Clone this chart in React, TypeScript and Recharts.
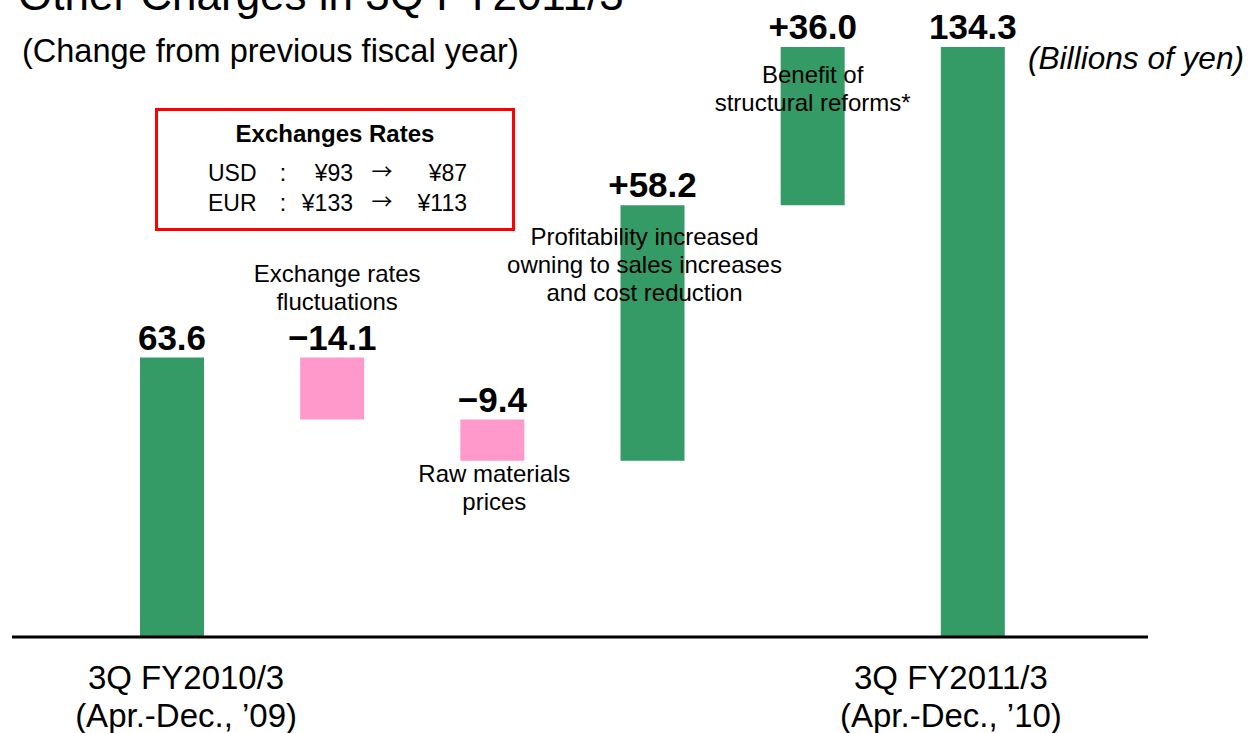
import React from "react";
import { Bar, BarChart, Cell, LabelList, XAxis, YAxis } from "recharts";

const categories = ["3Q FY2010/3", "Exchange rates", "Raw materials", "Profitability", "Structural reforms", "3Q FY2011/3"];
const kinds = ["total", "delta", "delta", "delta", "delta", "total"];
const values = [63.6, -14.1, -9.4, 58.2, 36.0, 134.3];
const valueLabels = ["63.6", "\u221214.1", "\u22129.4", "+58.2", "+36.0", "134.3"];
const notes = [
  [],
  ["Exchange rates", "fluctuations"],
  ["Raw materials", "prices"],
  ["Profitability increased", "owning to sales increases", "and cost reduction"],
  ["Benefit of", "structural reforms*"],
  [],
];
const tickTop = ["3Q FY2010/3", "", "", "", "", "3Q FY2011/3"];
const tickBottom = ["(Apr.-Dec., \u201909)", "", "", "", "", "(Apr.-Dec., \u201910)"];

const GREEN = "#349a66";
const PINK = "#ff99cc";
const FONT = '"Liberation Sans", Arial, sans-serif';

// waterfall: invisible base + visible step
let running = 0;
const data = categories.map((name, i) => {
  const v = values[i];
  let base = 0;
  let size = v;
  if (kinds[i] === "total") {
    running = v;
  } else if (v >= 0) {
    base = running;
    running += v;
  } else {
    base = running + v;
    size = -v;
    running += v;
  }
  return { name, base: Math.round(base * 10) / 10, size: Math.round(size * 10) / 10 };
});

// where the first note line sits, relative to the top of the bar
const noteDy = [0, -76, 62, 40, 36, 0];
const noteDx = [0, 5, 2, -8, 0, 0];
const tickDx = [14, 0, 0, 0, 0, -22];

function StepLabel(props: any) {
  const { x, y, width, index } = props;
  const cx = x + width / 2;
  const lines = notes[index] || [];
  return (
    <g>
      <text x={cx} y={y - 8} textAnchor="middle" fontFamily={FONT} fontWeight="bold" fontSize={35} fill="#000">
        {valueLabels[index]}
      </text>
      {lines.map((t, k) => (
        <text key={k} x={cx + noteDx[index]} y={y + noteDy[index] + k * 28} textAnchor="middle" fontFamily={FONT} fontSize={24} fill="#000">
          {t}
        </text>
      ))}
    </g>
  );
}

function CategoryTick(props: any) {
  const { x, y, payload } = props;
  const i = categories.indexOf(payload.value);
  if (i < 0 || !tickTop[i]) return null;
  return (
    <g>
      <text x={x + tickDx[i]} y={y + 52} textAnchor="middle" fontFamily={FONT} fontSize={33} fill="#000">
        {tickTop[i]}
      </text>
      <text x={x + tickDx[i]} y={y + 90} textAnchor="middle" fontFamily={FONT} fontSize={33} fill="#000">
        {tickBottom[i]}
      </text>
    </g>
  );
}

export default function App() {
  return (
    <div style={{ position: "absolute", left: 0, top: 0, width: 1251, height: 733, background: "#fff", overflow: "hidden" }}>
      <BarChart width={1251} height={733} data={data} margin={{ top: 22, right: 103, left: 12, bottom: 0 }}>
        <XAxis
          dataKey="name"
          height={96}
          padding={{ left: 80, right: 95 }}
          axisLine={{ stroke: "#000", strokeWidth: 3 }}
          tickLine={false}
          tickSize={0}
          tickMargin={0}
          interval={0}
          tick={<CategoryTick />}
        />
        <YAxis hide domain={[0, 140]} />
        <Bar dataKey="base" stackId="w" fill="transparent" isAnimationActive={false} barSize={64} />
        <Bar dataKey="size" stackId="w" isAnimationActive={false} barSize={64}>
          {data.map((d, i) => (
            <Cell key={d.name} fill={values[i] < 0 ? PINK : GREEN} />
          ))}
          <LabelList dataKey="size" content={<StepLabel />} />
        </Bar>
      </BarChart>
      <svg width={1251} height={733} style={{ position: "absolute", left: 0, top: 0, pointerEvents: "none" }}>
        <text x={18} y={10} fontFamily={FONT} fontSize={44} fill="#000">
          Other Charges in 3Q FY2011/3
        </text>
        <text x={22} y={62} fontFamily={FONT} fontSize={32.5} fill="#000">
          (Change from previous fiscal year)
        </text>
        <text x={1028} y={69} fontFamily={FONT} fontSize={31.6} fontStyle="italic" fill="#000">
          (Billions of yen)
        </text>
        <rect x={156.5} y={109.5} width={357} height={120} fill="#fff" stroke="#ff0000" strokeWidth={3} />
        <text x={335} y={142} textAnchor="middle" fontFamily={FONT} fontSize={24} fontWeight="bold" fill="#000">
          Exchanges Rates
        </text>
        <g fontFamily={FONT} fontSize={23} fill="#000">
          <text x={208} y={181}>USD</text>
          <text x={283} y={181} textAnchor="middle">:</text>
          <text x={353} y={181} textAnchor="end">¥93</text>
          <text x={382} y={179} textAnchor="middle" fontFamily="Noto Sans CJK JP" fontSize={21}>→</text>
          <text x={467} y={181} textAnchor="end">¥87</text>
          <text x={208} y={211}>EUR</text>
          <text x={283} y={211} textAnchor="middle">:</text>
          <text x={353} y={211} textAnchor="end">¥133</text>
          <text x={382} y={209} textAnchor="middle" fontFamily="Noto Sans CJK JP" fontSize={21}>→</text>
          <text x={467} y={211} textAnchor="end">¥113</text>
        </g>
      </svg>
    </div>
  );
}
